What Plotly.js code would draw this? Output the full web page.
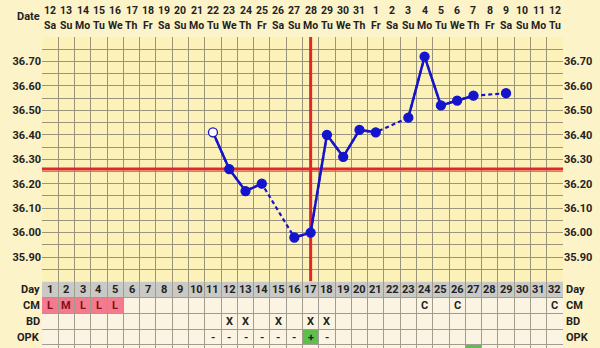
<!DOCTYPE html>
<html>
<head>
<meta charset="utf-8">
<script src="https://cdn.plot.ly/plotly-3.0.1.min.js"></script>
<style>html,body{margin:0;padding:0;background:#fdf3c8;}#chart{width:600px;height:348px;}</style>
</head>
<body>
<div id="chart"></div>
<script>
// ---- data ----
const days = [1,2,3,4,5,6,7,8,9,10,11,12,13,14,15,16,17,18,19,20,21,22,23,24,25,26,27,28,29,30,31,32];
const dates = ['12','13','14','15','16','17','18','19','20','21','22','23','24','25','26','27','28','29','30','31','1','2','3','4','5','6','7','8','9','10','11','12'];
const weekdays = ['Sa','Su','Mo','Tu','We','Th','Fr','Sa','Su','Mo','Tu','We','Th','Fr','Sa','Su','Mo','Tu','We','Th','Fr','Sa','Su','Mo','Tu','We','Th','Fr','Sa','Su','Mo','Tu'];
const temps = [null,null,null,null,null,null,null,null,null,null,
  36.41,36.26,36.17,36.20,null,35.98,36.00,36.40,36.31,36.42,36.41,null,36.47,36.72,36.52,36.54,36.56,null,36.57,null,null,null];
const openPointDay = 11;
const cm  = ['L','M','L','L','L','','','','','','','','','','','','','','','','','','','C','','C','','','','','','C'];
const bd  = ['','','','','','','','','','','','X','X','','X','','X','X','','','','','','','','','','','','','',''];
const opk = ['','','','','','','','','','','-','-','-','-','-','-','+','-','','','','','','','','','','','','','',''];
const extraRowGreenDays = [27];
const coverline = 36.26;
const ovulationDay = 17;
const yTickVals = [35.90,36.00,36.10,36.20,36.30,36.40,36.50,36.60,36.70];
const yTickText = ['35.90','36.00','36.10','36.20','36.30','36.40','36.50','36.60','36.70'];
const rowLabels = ['Day','CM','BD','OPK'];

// ---- styling ----
const BLUE = '#1414cc', RED = '#e2262a', GRID = '#9a947c', TGRID = '#a09c90';
const FONT = 'Roboto, "Liberation Sans", sans-serif';
const D = 66.5/311; // table domain fraction
const bounds = days.map(d => d - 0.5).concat([days[days.length-1] + 0.5]);

const traces = [
  { x: days, y: temps, type: 'scatter', mode: 'lines', connectgaps: true,
    line: {color: BLUE, width: 2.2, dash: '4px,3px'}, hoverinfo: 'skip', xaxis: 'x', yaxis: 'y' },
  { x: days, y: temps, type: 'scatter', mode: 'lines+markers', connectgaps: false,
    line: {color: BLUE, width: 2.5},
    marker: {size: 9, color: days.map(d => d === openPointDay ? '#ffffff' : BLUE), line: {color: BLUE, width: 1.3}},
    xaxis: 'x', yaxis: 'y' },
  { x: [days[0]], y: [yTickVals[0]], type: 'scatter', mode: 'markers', marker: {opacity: 0}, xaxis: 'x', yaxis: 'y3', hoverinfo: 'skip' },
  { x: [days[0]], y: [0.5], type: 'scatter', mode: 'markers', marker: {opacity: 0}, xaxis: 'x2', yaxis: 'y2', hoverinfo: 'skip' }
];

const shapes = [];
const annotations = [];
// table backgrounds
shapes.push({type: 'rect', xref: 'x2', yref: 'y2', x0: 0.5, x1: 32.5, y0: 0, y1: 1, fillcolor: '#c9c9c6', line: {width: 0}, layer: 'below'});
shapes.push({type: 'rect', xref: 'x2', yref: 'y2', x0: 0.5, x1: 32.5, y0: 1, y1: 4.3, fillcolor: '#fcf4e2', line: {width: 0}, layer: 'below'});
days.forEach((d, i) => {
  if (cm[i] === 'L' || cm[i] === 'M') shapes.push({type: 'rect', xref: 'x2', yref: 'y2', x0: d - 0.5, x1: d + 0.5, y0: 1, y1: 2, fillcolor: '#f37b8d', line: {width: 0}, layer: 'below'});
  if (opk[i] === '+') shapes.push({type: 'rect', xref: 'x2', yref: 'y2', x0: d - 0.5, x1: d + 0.5, y0: 3, y1: 4, fillcolor: '#5fbf4e', line: {width: 0}, layer: 'below'});
  if (extraRowGreenDays.indexOf(d) >= 0) shapes.push({type: 'rect', xref: 'x2', yref: 'y2', x0: d - 0.5, x1: d + 0.5, y0: 4, y1: 5, fillcolor: '#5fbf4e', line: {width: 0}, layer: 'below'});
});
// coverline & ovulation line
shapes.push({type: 'line', xref: 'x', yref: 'y', x0: 0.5, x1: 32.5, y0: coverline, y1: coverline, line: {color: RED, width: 3}, layer: 'between'});
shapes.push({type: 'line', xref: 'x', yref: 'y', x0: ovulationDay, x1: ovulationDay, y0: 35.8, y1: 36.8, line: {color: RED, width: 3}, layer: 'between'});

const bold = {family: FONT, size: 11, color: '#222', weight: 'bold'};
const boldSmall = {family: FONT, size: 10.5, color: '#222', weight: 'bold'};
// date header
days.forEach((d, i) => {
  annotations.push({xref: 'x', yref: 'paper', x: d, y: 1, yanchor: 'middle', yshift: 27, text: dates[i], showarrow: false, font: boldSmall});
  annotations.push({xref: 'x', yref: 'paper', x: d, y: 1, yanchor: 'middle', yshift: 11.5, text: weekdays[i], showarrow: false, font: boldSmall});
  annotations.push({xref: 'x2', yref: 'y2', x: d, y: 0.5, text: String(d), showarrow: false, font: bold});
  if (cm[i]) annotations.push({xref: 'x2', yref: 'y2', x: d, y: 1.5, text: cm[i], showarrow: false,
    font: Object.assign({}, bold, {color: (cm[i] === 'C' ? '#222' : '#7a1418')})});
  if (bd[i]) annotations.push({xref: 'x2', yref: 'y2', x: d, y: 2.5, text: bd[i], showarrow: false, font: bold});
  if (opk[i]) annotations.push({xref: 'x2', yref: 'y2', x: d, y: 3.5, text: opk[i], showarrow: false, font: bold});
});
annotations.push({xref: 'paper', yref: 'paper', x: 0, y: 1, xanchor: 'right', yanchor: 'middle', yshift: 21, xshift: 0, text: 'Date', showarrow: false, font: bold});
rowLabels.forEach((lab, r) => {
  annotations.push({xref: 'paper', yref: 'y2', x: 0, y: r + 0.5, xanchor: 'right', xshift: 0, text: lab, showarrow: false, font: bold});
  annotations.push({xref: 'paper', yref: 'y2', x: 1, y: r + 0.5, xanchor: 'left', xshift: 1, text: lab, showarrow: false, font: bold});
});

const layout = {
  width: 600, height: 348,
  margin: {l: 42, r: 37, t: 37, b: 0, pad: 0},
  paper_bgcolor: '#fdf3c8', plot_bgcolor: '#fcf1b9',
  showlegend: false,
  font: {family: FONT, size: 11, color: '#222'},
  xaxis: {domain: [0, 1], range: [0.5, 32.5], anchor: 'y', tickmode: 'array', tickvals: bounds, showticklabels: false, ticks: '',
    showgrid: true, gridcolor: GRID, gridwidth: 1, zeroline: false, showline: false, fixedrange: true},
  yaxis: {domain: [D, 1], range: [35.8, 36.8], anchor: 'x', tickmode: 'array', tickvals: yTickVals, ticktext: yTickText, ticks: '',
    tickfont: bold, showgrid: true, gridcolor: GRID, gridwidth: 1, zeroline: false,
    minor: {tick0: 35.8, dtick: 0.05, showgrid: true, gridcolor: GRID, gridwidth: 1, ticks: ''}, fixedrange: true},
  yaxis3: {overlaying: 'y', side: 'right', anchor: 'x', range: [35.8, 36.8], tickmode: 'array', tickvals: yTickVals, ticktext: yTickText, ticks: '',
    tickfont: bold, showgrid: false, zeroline: false, fixedrange: true},
  xaxis2: {domain: [0, 1], range: [0.5, 32.5], anchor: 'y2', tickmode: 'array', tickvals: bounds, showticklabels: false, ticks: '',
    showgrid: true, gridcolor: TGRID, gridwidth: 1, zeroline: false, fixedrange: true},
  yaxis2: {domain: [0, D], range: [4.19, 0], anchor: 'x2', tickmode: 'array', tickvals: [0, 1, 2, 3, 4], showticklabels: false, ticks: '',
    showgrid: true, gridcolor: TGRID, gridwidth: 1, zeroline: false, fixedrange: true},
  shapes: shapes,
  annotations: annotations
};

Plotly.newPlot('chart', traces, layout, {displayModeBar: false, staticPlot: true});
</script>
</body>
</html>
